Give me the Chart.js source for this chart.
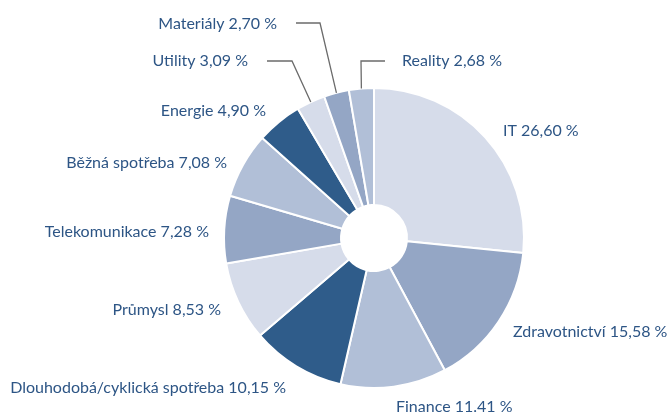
<!DOCTYPE html>
<html>
<head>
<meta charset="utf-8">
<script src="https://cdn.jsdelivr.net/npm/chart.js@4"></script>
<style>
html,body{margin:0;padding:0;background:#fff;}
#wrap{width:668px;height:414px;}
</style>
</head>
<body>
<div id="wrap"><canvas id="c" width="668" height="414"></canvas></div>
<script>
const categories = ["IT","Zdravotnictví","Finance","Dlouhodobá/cyklická spotřeba","Průmysl","Telekomunikace","Běžná spotřeba","Energie","Utility","Materiály","Reality"];
const values = [26.60,15.58,11.41,10.15,8.53,7.28,7.08,4.90,3.09,2.70,2.68];
const valueLabels = ["26,60 %","15,58 %","11.41 %","10,15 %","8,53 %","7,28 %","7,08 %","4,90 %","3,09 %","2,70 %","2,68 %"];

const palette = ["#d6dcea","#94a6c5","#b1bfd7","#2f5c8a"];
const sliceColors = values.map((v,i)=>palette[i%4]);

// label layout: text anchor (x, baseline y, align) and optional leader elbow
const labelLayout = [
  {x:503,y:136,align:"left"},
  {x:513,y:337,align:"left"},
  {x:396,y:412,align:"left"},
  {x:286,y:393,align:"right"},
  {x:221,y:315,align:"right"},
  {x:209,y:237,align:"right"},
  {x:227,y:168,align:"right"},
  {x:266,y:116,align:"right"},
  {x:248,y:66,align:"right",elbow:[292,61],lineEnd:267},
  {x:277,y:29,align:"right",elbow:[320,23],lineEnd:296},
  {x:402,y:66,align:"left",elbow:[361,61],lineEnd:385}
];

const labelPlugin = {
  id:"sliceLabels",
  afterDraw(chart){
    const ctx = chart.ctx;
    const meta = chart.getDatasetMeta(0);
    ctx.save();
    ctx.font = "16px Lato";
    ctx.fillStyle = "#2d5585";
    meta.data.forEach((arc,i)=>{
      const L = labelLayout[i];
      const text = categories[i] + " " + valueLabels[i];
      ctx.textAlign = L.align;
      ctx.textBaseline = "alphabetic";
      ctx.fillText(text, L.x, L.y);
      if (L.elbow){
        const p = arc.getProps(["x","y","startAngle","endAngle","outerRadius"],true);
        const mid = (p.startAngle+p.endAngle)/2;
        const ex = p.x + Math.cos(mid)*p.outerRadius;
        const ey = p.y + Math.sin(mid)*p.outerRadius;
        ctx.beginPath();
        ctx.strokeStyle = "#6b6b6b";
        ctx.lineWidth = 1.3;
        ctx.moveTo(L.lineEnd, L.elbow[1]);
        ctx.lineTo(L.elbow[0], L.elbow[1]);
        ctx.lineTo(ex, ey);
        ctx.stroke();
      }
    });
    ctx.restore();
  }
};

new Chart(document.getElementById("c"),{
  type:"doughnut",
  data:{labels:categories,datasets:[{data:values,backgroundColor:sliceColors,borderColor:"#ffffff",borderWidth:2,hoverOffset:0}]},
  options:{
    responsive:false,
    animation:false,
    cutout:"22%",
    layout:{padding:{left:223,right:143,top:87,bottom:25}},
    plugins:{legend:{display:false},tooltip:{enabled:false}}
  },
  plugins:[labelPlugin]
});
</script>
</body>
</html>
